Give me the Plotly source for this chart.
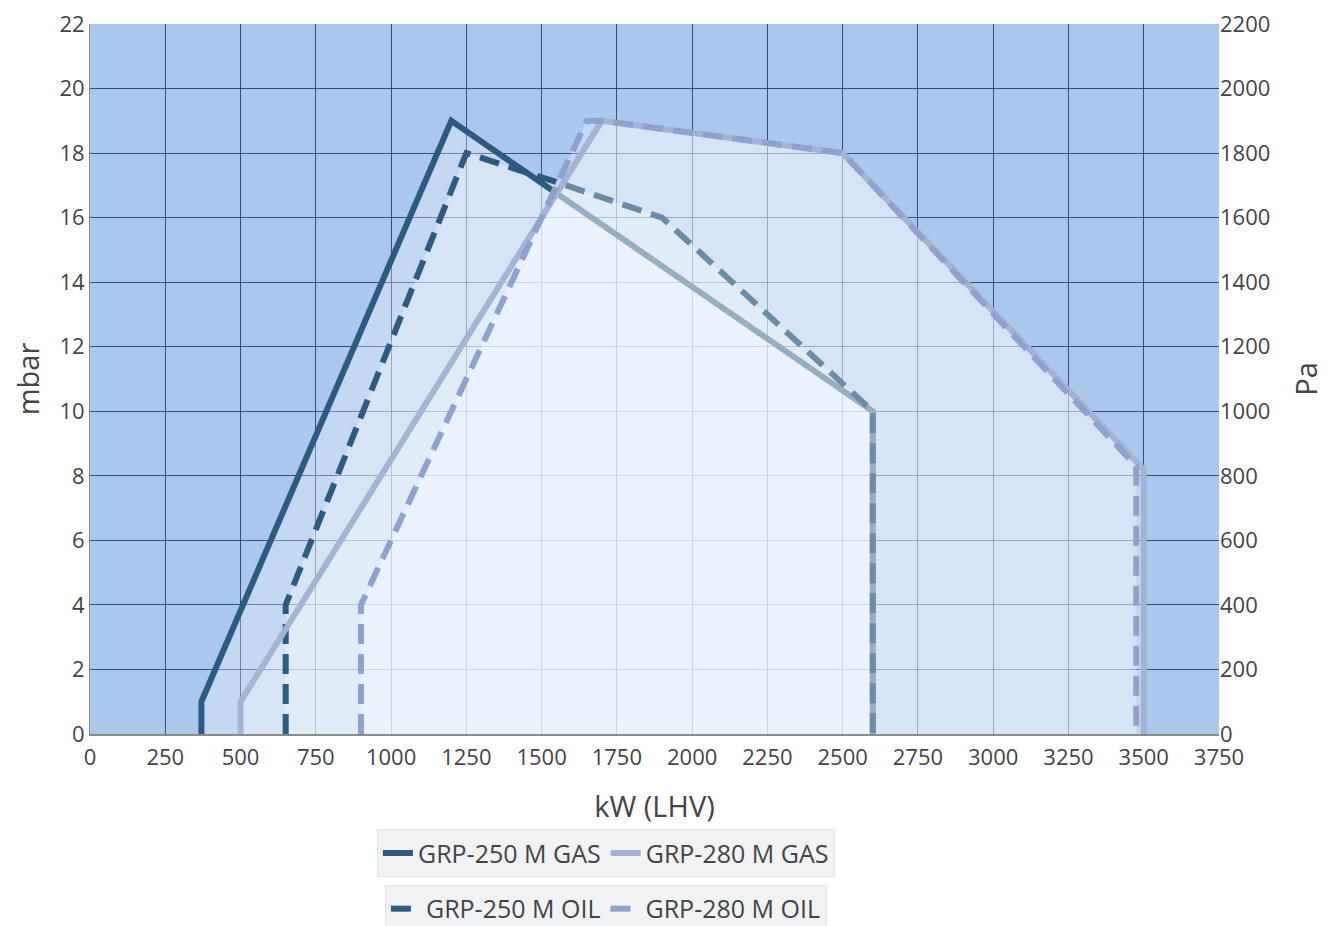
import plotly.graph_objects as go

# GRP-250 M GAS
gas250_x = [370, 370, 1200, 2600, 2600]
gas250_y = [0, 1, 19, 10, 0]
# GRP-250 M OIL
oil250_x = [650, 650, 1250, 1550, 1900, 2600, 2600]
oil250_y = [0, 4, 18, 17.1, 16, 10, 0]
# GRP-280 M GAS
gas280_x = [500, 500, 1700, 2500, 3500, 3500]
gas280_y = [0, 1, 19, 18, 8.2, 0]
# GRP-280 M OIL
oil280_x = [900, 900, 1650, 1700, 2500, 3475, 3475]
oil280_y = [0, 4, 19, 19, 18, 8.3, 0]

x_ticks = list(range(0, 3751, 250))
mbar_ticks = list(range(0, 23, 2))
pa_ticks = list(range(0, 2201, 200))

DASH = "20px,10px"
FILL = "rgba(255,255,255,0.3)"

def fill_trace(xs, ys):
    return go.Scatter(x=xs, y=ys, mode="lines", fill="toself",
                      fillcolor=FILL, line=dict(width=0),
                      showlegend=False, hoverinfo="skip")

def line_trace(name, xs, ys, col, dash, lg):
    return go.Scatter(x=xs, y=ys, mode="lines", name=name,
                      line=dict(color=col, width=6, dash=dash), legend=lg)

fig = go.Figure()
fig.add_trace(fill_trace(gas250_x, gas250_y))
fig.add_trace(fill_trace(oil250_x, oil250_y))
fig.add_trace(line_trace("GRP-250 M GAS", gas250_x, gas250_y, "#2c5a80", "solid", "legend"))
fig.add_trace(fill_trace(gas280_x, gas280_y))
fig.add_trace(line_trace("GRP-250 M OIL", oil250_x, oil250_y, "#2c5a80", DASH, "legend2"))
fig.add_trace(fill_trace(oil280_x, oil280_y))
fig.add_trace(line_trace("GRP-280 M GAS", gas280_x, gas280_y, "#a3b3d3", "solid", "legend"))
fig.add_trace(line_trace("GRP-280 M OIL", oil280_x, oil280_y, "#8ea2cf", DASH, "legend2"))

# invisible trace for right axis
fig.add_trace(go.Scatter(x=[0], y=[0], yaxis="y2", mode="markers",
                         marker=dict(opacity=0), showlegend=False,
                         hoverinfo="skip"))

tickfont = dict(family="Open Sans", size=22, color="#444")
titlefont = dict(family="Open Sans", size=29, color="#444")
gridc = "rgba(25,50,95,0.8)"

fig.update_layout(
    width=1330, height=926,
    margin=dict(l=82, r=119, t=16, b=200, autoexpand=False),
    paper_bgcolor="white",
    plot_bgcolor="#a9c8ec",
    font=dict(family="Open Sans", color="#444"),
    xaxis=dict(range=[0, 3750], tickvals=x_ticks, showgrid=True,
               gridcolor=gridc, gridwidth=1, zeroline=False,
               showline=True, linecolor="#8a8a8a", linewidth=2,
               ticks="", tickfont=tickfont, automargin=False,
               ticklabelstandoff=3, ticklabeloverflow="allow",
               title=dict(text="kW (LHV)", font=titlefont, standoff=26)),
    yaxis=dict(range=[0, 22], tickvals=mbar_ticks, showgrid=True,
               gridcolor=gridc, gridwidth=1, zeroline=False,
               showline=True, linecolor="#8a8a8a", linewidth=1,
               ticks="", tickfont=tickfont, automargin=False,
               ticklabeloverflow="allow",
               title=dict(text="mbar", font=titlefont, standoff=17)),
    yaxis2=dict(range=[0, 2200], tickvals=pa_ticks, overlaying="y",
                side="right", showgrid=False, zeroline=False,
                ticks="", tickfont=tickfont, automargin=False,
                ticklabeloverflow="allow",
                title=dict(text="Pa", font=titlefont, standoff=27)),
    legend=dict(orientation="h", x=0.457, xanchor="center",
                yref="container", y=0.113, yanchor="top",
                bgcolor="#f1f2f4", bordercolor="#e2e4e8",
                borderwidth=1, font=dict(size=25, color="#444"),
                itemwidth=30),
    legend2=dict(orientation="h", x=0.457, xanchor="center",
                 yref="container", y=0.053, yanchor="top",
                 bgcolor="#f1f2f4", bordercolor="#e2e4e8",
                 borderwidth=1, font=dict(size=25, color="#444"),
                 itemwidth=30),
)

fig.write_html("out.html")
